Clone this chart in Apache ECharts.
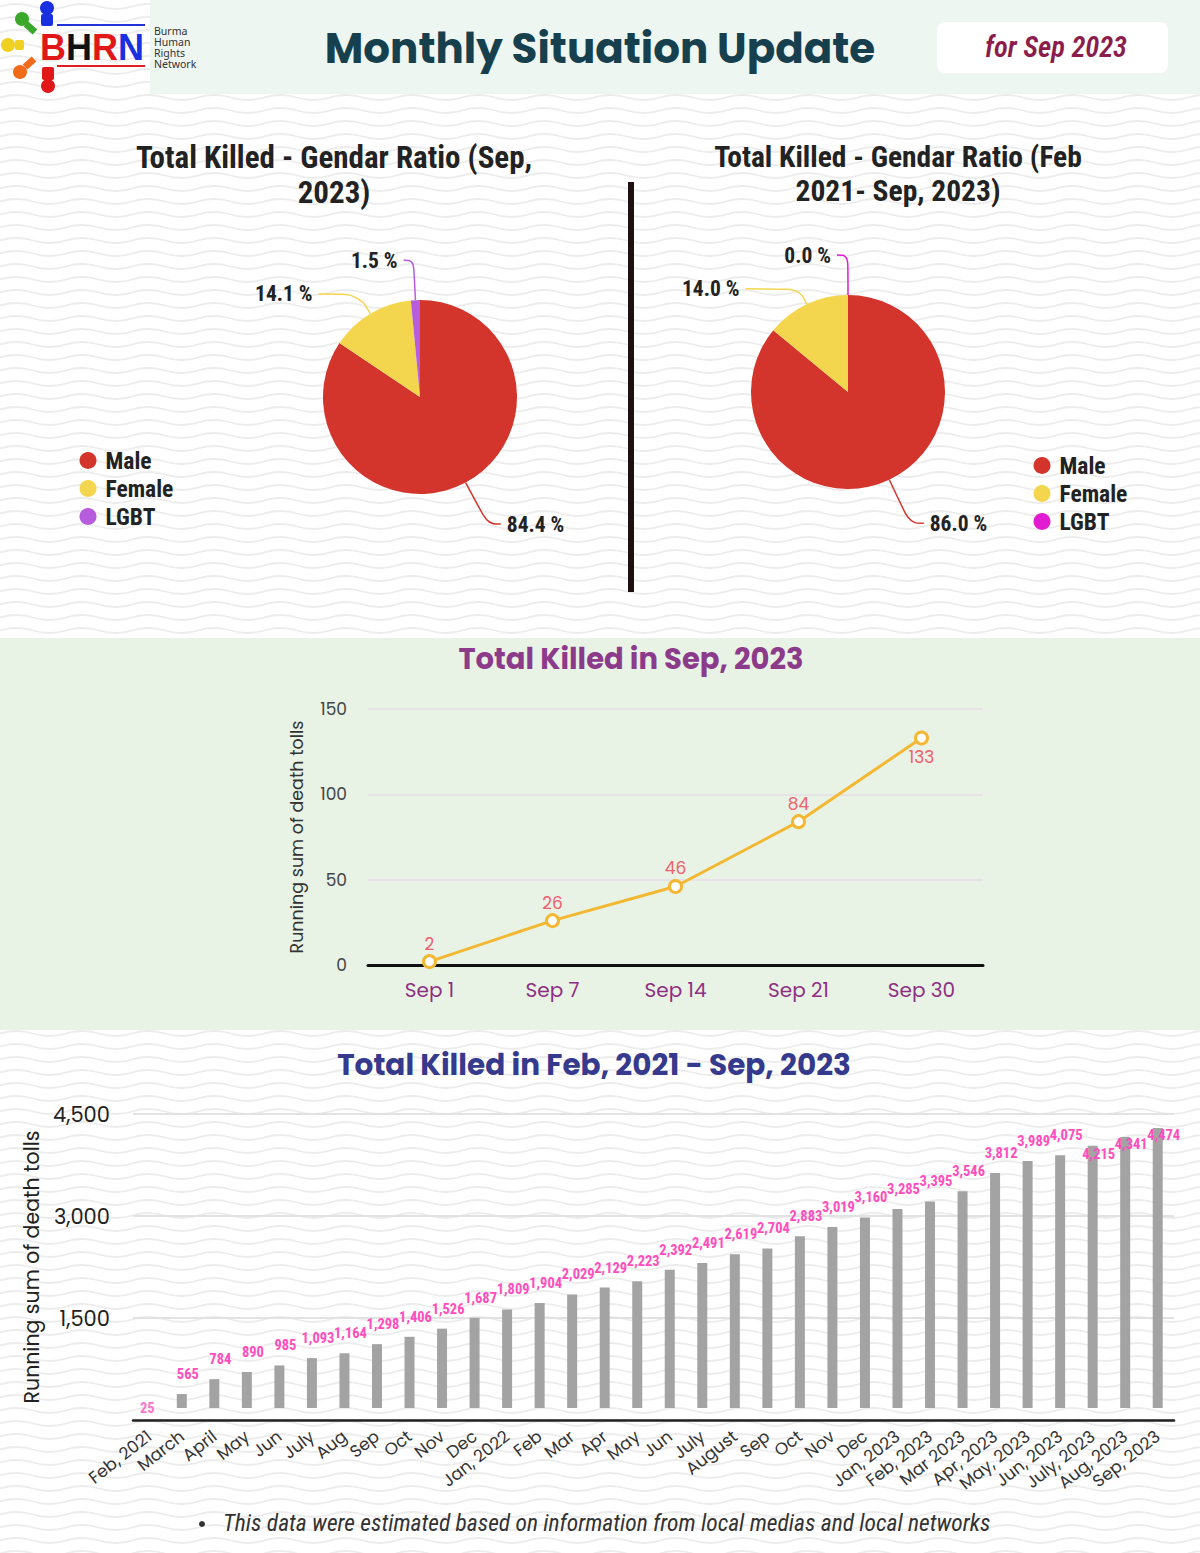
<!DOCTYPE html>
<html>
<head>
<meta charset="utf-8">
<script src="https://cdn.jsdelivr.net/npm/echarts@6/dist/echarts.min.js"></script>
<style>
html, body { margin: 0; padding: 0; background: #fff; }
#chart {
  width: 1200px; height: 1553px;
  background-color: #ffffff;
  background-image: url("data:image/svg+xml;utf8,<svg xmlns='http://www.w3.org/2000/svg' width='66' height='13'><path d='M0 6.5 Q16.5 1.5 33 6.5 T66 6.5' fill='none' stroke='%23ececec' stroke-width='1.8'/></svg>");
}
</style>
</head>
<body>
<div id="chart"></div>
<script>
// ---------------- DATA ----------------
const pieCategories = ['Male', 'Female', 'LGBT'];
const pieSepValues = [84.4, 14.1, 1.5];          // Sep 2023 (%)
const pieAllValues = [86.0, 14.0, 0.0];          // Feb 2021 - Sep 2023 (%)

const lineCategories = ['Sep 1', 'Sep 7', 'Sep 14', 'Sep 21', 'Sep 30'];
const lineValues = [2, 26, 46, 84, 133];
const lineTicks = [0, 50, 100, 150];

const barCategories = ['Feb, 2021', 'March', 'April', 'May', 'Jun', 'July', 'Aug', 'Sep', 'Oct', 'Nov', 'Dec',
  'Jan, 2022', 'Feb', 'Mar', 'Apr', 'May', 'Jun', 'July', 'August', 'Sep', 'Oct', 'Nov', 'Dec',
  'Jan, 2023', 'Feb, 2023', 'Mar 2023', 'Apr, 2023', 'May, 2023', 'Jun, 2023', 'July, 2023', 'Aug, 2023', 'Sep, 2023'];
const barValues = [25, 565, 784, 890, 985, 1093, 1164, 1298, 1406, 1526, 1687, 1809, 1904, 2029, 2129, 2223,
  2392, 2491, 2619, 2704, 2883, 3019, 3160, 3285, 3395, 3546, 3812, 3989, 4075, 4215, 4341, 4474];
const barTicks = [0, 1500, 3000, 4500];

// ---------------- STYLE ----------------
const COND = "'Roboto Condensed','Liberation Sans Narrow','Arial Narrow','DejaVu Sans Condensed','Noto Sans',sans-serif";
const GEO = "'Poppins','Noto Sans',sans-serif";
const leftPieColors = ['#d3342b', '#f4d64e', '#b65cdc'];
const rightPieColors = ['#d3342b', '#f4d64e', '#e21cd1'];
const leftLabelLines = [{ length: 47, length2: 13 }, { length: 23, length2: 40 }, { length: 40, length2: 10 }];
const rightLabelLines = [{ length: 48, length2: 14 }, { length: 17, length2: 54 }, { length: 40, length2: 11 }];
const BAR_AXIS_MIN = 360, BAR_AXIS_MAX = 4680;   // bar baseline sits above the drawn axis line
const raisedLabelOffset = { 29: [6, 28], 30: [6, 27], 31: [6, 27] };

const mctx = document.createElement('canvas').getContext('2d');
function fit(text, target, family, weight, style) {
  mctx.font = (style || 'normal') + ' ' + (weight || 'normal') + ' 100px ' + family;
  const w = mctx.measureText(text).width;
  return Math.round(target / w * 100 * 2) / 2;
}

const fsHeader = fit('Monthly Situation Update', 551, GEO, 'bold');
const fsFor = fit('for Sep 2023', 143, COND, '600', 'italic');
const fsPieTitleL = fit('Total Killed - Gendar Ratio (Sep,', 394, COND, 'bold');
const fsPieTitleR = fit('Total Killed - Gendar Ratio (Feb', 365, COND, 'bold');
const fsPieLabel = fit('84.4 %', 58, COND, 'bold');
const fsLegend = fit('Female', 68, COND, 'bold');
const fsLineTitle = fit('Total Killed in Sep, 2023', 348, GEO, 'bold');
const fsBarTitle = fit('Total Killed in Feb, 2021 - Sep, 2023', 511, GEO, 'bold');
const fsBarLabel = fit('1,093', 33, COND, 'bold');
const fsNote = fit('This data were estimated based on information from local medias and local networks', 774, COND, 'normal', 'italic');
const fsBarName = fit('Running sum of death tolls', 273, GEO);
const fsLineName = fit('Running sum of death tolls', 233, GEO);
const fsBarXLabel = fit('Feb, 2021', 74, GEO);

const chart = echarts.init(document.getElementById('chart'), null, { renderer: 'svg', width: 1200, height: 1553 });

function pieData(values, colors, lines) {
  return pieCategories.map((n, i) => ({
    name: n, value: values[i],
    itemStyle: { color: colors[i] },
    labelLine: { length: lines[i].length, length2: lines[i].length2 }
  }));
}

function legendFor(colors, left, top) {
  return {
    data: pieCategories.map((n, i) => ({ name: n, itemStyle: { color: colors[i] } })),
    orient: 'vertical', left: left, top: top, icon: 'circle', padding: 0,
    itemWidth: 17, itemHeight: 17, itemGap: 4, selectedMode: false,
    textStyle: { fontSize: fsLegend, lineHeight: 19, fontWeight: 'bold', fontFamily: COND, color: '#222', padding: [0, 0, 0, 4] }
  };
}

const pieLabel = {
  show: true, position: 'outside',
  formatter: p => p.value.toFixed(1) + ' %',
  fontSize: fsPieLabel, fontWeight: 'bold', fontFamily: COND, color: '#222',
  distanceToLabelLine: 6
};

const option = {
  backgroundColor: 'transparent',
  animation: false,
  legend: [legendFor(leftPieColors, 79.5, 448.5), legendFor(rightPieColors, 1033.5, 453.5)],
  grid: [
    { left: 368, right: 217, top: 709, bottom: 588 },
    { left: 133, right: 26, top: 1114, bottom: 133 },
    { left: 133, right: 26, top: 1114, bottom: 145 }
  ],
  xAxis: [
    {
      gridIndex: 0, type: 'category', data: lineCategories, boundaryGap: true,
      axisLine: { lineStyle: { color: '#111', width: 3 } },
      axisTick: { alignWithLabel: true, length: 13, lineStyle: { color: '#111', width: 2 } },
      axisLabel: { color: '#8e2f83', fontSize: 20, fontFamily: GEO, margin: 15 }
    },
    {
      gridIndex: 1, type: 'category', data: barCategories, boundaryGap: true,
      axisLine: { lineStyle: { color: '#222', width: 2.5 } },
      axisTick: { alignWithLabel: true, length: 12, lineStyle: { color: '#222', width: 2 } },
      axisLabel: { interval: 0, rotate: 38, color: '#333', fontSize: fsBarXLabel, fontFamily: GEO, margin: 14 }
    },
    { gridIndex: 2, type: 'category', data: barCategories, boundaryGap: true, show: false }
  ],
  yAxis: [
    {
      gridIndex: 0, type: 'value',
      min: lineTicks[0], max: lineTicks[lineTicks.length - 1], interval: lineTicks[1] - lineTicks[0],
      name: 'Running sum of death tolls', nameLocation: 'middle', nameGap: 62,
      nameTextStyle: { color: '#333', fontSize: fsLineName, fontFamily: GEO },
      axisLine: { show: false }, axisTick: { show: false },
      axisLabel: { color: '#444', fontSize: 17, fontFamily: GEO, margin: 21 },
      splitLine: { lineStyle: { color: '#e6dce6', width: 1.5 } }
    },
    {
      gridIndex: 1, type: 'value',
      min: barTicks[0], max: barTicks[barTicks.length - 1], interval: barTicks[1] - barTicks[0],
      name: 'Running sum of death tolls', nameLocation: 'middle', nameGap: 90,
      nameTextStyle: { color: '#222', fontSize: fsBarName, fontFamily: GEO },
      axisLine: { show: false }, axisTick: { show: false },
      axisLabel: { color: '#222', fontSize: 21, fontFamily: GEO, margin: 23, showMinLabel: false,
        formatter: v => v.toLocaleString('en-US') },
      splitLine: { lineStyle: { color: '#e2e2e2', width: 2 } }
    },
    { gridIndex: 2, type: 'value', min: BAR_AXIS_MIN, max: BAR_AXIS_MAX, show: false, splitLine: { show: false } }
  ],
  series: [
    {
      type: 'pie', center: [420, 397], radius: 97, startAngle: 90, clockwise: true,
      avoidLabelOverlap: false, silent: true,
      data: pieData(pieSepValues, leftPieColors, leftLabelLines),
      label: pieLabel,
      labelLine: { smooth: 0.4, lineStyle: { width: 1.5 } }
    },
    {
      type: 'pie', center: [848, 392], radius: 97, startAngle: 90, clockwise: true,
      avoidLabelOverlap: false, silent: true, stillShowZeroSum: true,
      data: pieData(pieAllValues, rightPieColors, rightLabelLines),
      label: pieLabel,
      labelLine: { smooth: 0.4, lineStyle: { width: 1.5 } }
    },
    {
      type: 'line', xAxisIndex: 0, yAxisIndex: 0,
      data: lineValues.map((v, i) => i === lineValues.length - 1 ? { value: v, label: { position: 'bottom', distance: 3 } } : v),
      lineStyle: { color: '#f4b731', width: 3 },
      symbol: 'circle', symbolSize: 12,
      itemStyle: { color: '#ffffff', borderColor: '#f4b731', borderWidth: 3 },
      label: { show: true, position: 'top', distance: 2, color: '#f0606b', fontSize: 17, fontFamily: GEO }
    },
    {
      type: 'bar', xAxisIndex: 2, yAxisIndex: 2, barWidth: 10,
      data: barValues.map((v, i) => raisedLabelOffset[i] ? { value: v, label: { offset: raisedLabelOffset[i] } } : v),
      itemStyle: { color: '#a3a3a3' },
      label: {
        show: true, position: 'top', distance: 12, offset: [6, 0],
        color: '#ff4dbd', fontSize: fsBarLabel, fontWeight: 'bold', fontFamily: COND,
        formatter: p => Number(p.value).toLocaleString('en-US')
      }
    },
    {
      type: 'scatter', xAxisIndex: 2, yAxisIndex: 2, symbolSize: 0, clip: false, silent: true,
      data: barValues.map((v, i) => [i, Math.max(v, BAR_AXIS_MIN), v]).filter(d => d[2] < BAR_AXIS_MIN),
      label: {
        show: true, position: 'inside', offset: [-2, 0],
        color: '#ff4dbd', fontSize: fsBarLabel, fontWeight: 'bold', fontFamily: COND,
        formatter: p => Number(p.value[2]).toLocaleString('en-US')
      }
    }
  ],
  graphic: {
    elements: [
      // header band
      { type: 'rect', z: -10, silent: true, shape: { x: 150, y: 0, width: 1050, height: 94 }, style: { fill: '#eef6f1' } },
      // line-chart band
      { type: 'rect', z: -10, silent: true, shape: { x: 0, y: 638, width: 1200, height: 392 }, style: { fill: '#e8f3e6' } },
      // date box
      { type: 'rect', z: -5, silent: true, shape: { x: 937, y: 22, width: 231, height: 51, r: 8 }, style: { fill: 'rgba(255,255,255,0.92)' } },
      // divider
      { type: 'rect', silent: true, shape: { x: 628, y: 182, width: 6, height: 410 }, style: { fill: '#1e1010' } },
      // logo
      { type: 'line', silent: true, shape: { x1: 57, y1: 25, x2: 145, y2: 25 }, style: { stroke: '#2233dd', lineWidth: 2 } },
      { type: 'line', silent: true, shape: { x1: 57, y1: 66, x2: 145, y2: 66 }, style: { stroke: '#e02020', lineWidth: 2 } },
      { type: 'circle', silent: true, shape: { cx: 47, cy: 8, r: 7 }, style: { fill: '#1a2fe0' } },
      { type: 'rect', silent: true, shape: { x: 41, y: 14, width: 12, height: 12, r: 2 }, style: { fill: '#1a2fe0' } },
      { type: 'circle', silent: true, shape: { cx: 22, cy: 19, r: 7 }, style: { fill: '#3aa82a' } },
      { type: 'line', silent: true, shape: { x1: 26, y1: 24, x2: 35, y2: 32 }, style: { stroke: '#3aa82a', lineWidth: 7 } },
      { type: 'circle', silent: true, shape: { cx: 8, cy: 45, r: 7 }, style: { fill: '#f0d020' } },
      { type: 'rect', silent: true, shape: { x: 15, y: 40, width: 9, height: 10, r: 2 }, style: { fill: '#f0d020' } },
      { type: 'circle', silent: true, shape: { cx: 20, cy: 72, r: 7 }, style: { fill: '#f06a1a' } },
      { type: 'line', silent: true, shape: { x1: 25, y1: 67, x2: 34, y2: 59 }, style: { stroke: '#f06a1a', lineWidth: 7 } },
      { type: 'circle', silent: true, shape: { cx: 48, cy: 86, r: 7 }, style: { fill: '#e01818' } },
      { type: 'rect', silent: true, shape: { x: 42, y: 67, width: 12, height: 13, r: 2 }, style: { fill: '#e01818' } },
      { type: 'text', silent: true, x: 92, y: 47, style: {
          text: '{r|B}{k|H}{r|R}{b|N}', align: 'center', verticalAlign: 'middle',
          rich: {
            r: { fill: '#e01818', fontSize: 36, fontWeight: 'bold', fontFamily: "'Liberation Sans',Arial,sans-serif" },
            k: { fill: '#111111', fontSize: 36, fontWeight: 'bold', fontFamily: "'Liberation Sans',Arial,sans-serif" },
            b: { fill: '#1a2fe0', fontSize: 36, fontWeight: 'bold', fontFamily: "'Liberation Sans',Arial,sans-serif" }
          } } },
      { type: 'text', silent: true, x: 154, y: 31, style: { text: 'Burma', fill: '#333', fontSize: 10.5, verticalAlign: 'middle', fontFamily: "'Noto Sans',sans-serif" } },
      { type: 'text', silent: true, x: 154, y: 42, style: { text: 'Human', fill: '#333', fontSize: 10.5, verticalAlign: 'middle', fontFamily: "'Noto Sans',sans-serif" } },
      { type: 'text', silent: true, x: 154, y: 53, style: { text: 'Rights', fill: '#333', fontSize: 10.5, verticalAlign: 'middle', fontFamily: "'Noto Sans',sans-serif" } },
      { type: 'text', silent: true, x: 154, y: 64, style: { text: 'Network', fill: '#333', fontSize: 10.5, verticalAlign: 'middle', fontFamily: "'Noto Sans',sans-serif" } },
      // header texts
      { type: 'text', silent: true, x: 600, y: 48, style: { text: 'Monthly Situation Update', align: 'center', verticalAlign: 'middle', fill: '#17404f', fontSize: fsHeader, fontWeight: 'bold', fontFamily: GEO } },
      { type: 'text', silent: true, x: 1056, y: 47, style: { text: 'for Sep 2023', align: 'center', verticalAlign: 'middle', fill: '#8b1d4c', fontSize: fsFor, fontWeight: '600', fontStyle: 'italic', fontFamily: COND } },
      // pie titles
      { type: 'text', silent: true, x: 334, y: 175, style: { text: 'Total Killed - Gendar Ratio (Sep,\n2023)', align: 'center', verticalAlign: 'middle', lineHeight: 35, fill: '#222', fontSize: fsPieTitleL, fontWeight: 'bold', fontFamily: COND } },
      { type: 'text', silent: true, x: 898, y: 174, style: { text: 'Total Killed - Gendar Ratio (Feb\n2021- Sep, 2023)', align: 'center', verticalAlign: 'middle', lineHeight: 34, fill: '#222', fontSize: fsPieTitleR, fontWeight: 'bold', fontFamily: COND } },
      // chart titles
      { type: 'text', silent: true, x: 631, y: 659, style: { text: 'Total Killed in Sep, 2023', align: 'center', verticalAlign: 'middle', fill: '#8c3a8a', fontSize: fsLineTitle, fontWeight: 'bold', fontFamily: GEO } },
      { type: 'text', silent: true, x: 594, y: 1064, style: { text: 'Total Killed in Feb, 2021 - Sep, 2023', align: 'center', verticalAlign: 'middle', fill: '#353a8c', fontSize: fsBarTitle, fontWeight: 'bold', fontFamily: GEO } },
      // note
      { type: 'circle', silent: true, shape: { cx: 202, cy: 1524, r: 3 }, style: { fill: '#333' } },
      { type: 'text', silent: true, x: 223, y: 1523, style: { text: 'This data were estimated based on information from local medias and local networks', align: 'left', verticalAlign: 'middle', fill: '#333', fontSize: fsNote, fontStyle: 'italic', fontFamily: COND } }
    ]
  }
};

chart.setOption(option);
</script>
</body>
</html>
